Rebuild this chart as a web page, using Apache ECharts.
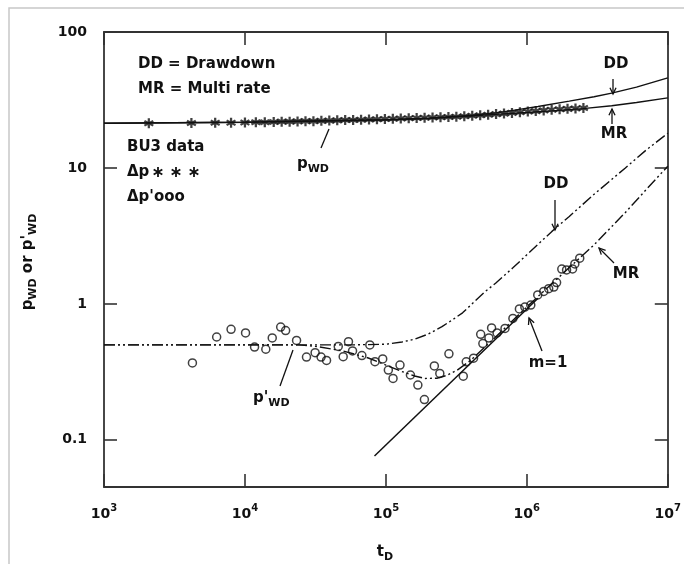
<!DOCTYPE html>
<html>
<head>
<meta charset="utf-8">
<script src="https://cdn.jsdelivr.net/npm/echarts/dist/echarts.min.js"></script>
<style>
  html, body { margin: 0; padding: 0; background: #fff; }
  #chart { width: 684px; height: 564px; }
</style>
</head>
<body>
<div id="chart"></div>
<script>
// BU3 build-up test: dimensionless pressure p_WD and derivative p'_WD vs t_D

// Δp data points (asterisks)
const starTimes = [2080, 4170, 6150, 7970, 10000, 11950, 13830, 16000, 18220, 20750,
  23620, 26890, 30610, 34850, 39680, 45170, 51430, 58560, 66670, 75910,
  86430, 98400, 112000, 127500, 145200, 165300, 188200, 214300, 244000, 277800,
  316200, 360000, 409900, 466700, 531400, 605000, 688700, 784300, 892900, 1016000,
  1157000, 1317000, 1500000, 1708000, 1944000, 2214000, 2520000];
const starPressure = [21.3, 21.4, 21.5, 21.5, 21.6, 21.7, 21.7, 21.8, 21.9, 21.9,
  22.0, 22.1, 22.1, 22.2, 22.3, 22.4, 22.5, 22.5, 22.6, 22.7,
  22.8, 22.9, 23.0, 23.1, 23.2, 23.3, 23.4, 23.5, 23.6, 23.7,
  23.8, 24.0, 24.2, 24.4, 24.6, 24.9, 25.1, 25.4, 25.7, 26.0,
  26.2, 26.5, 26.8, 27.0, 27.2, 27.4, 27.6];

// Δp' data points (open circles)
const circleTimes = [4240, 6300, 7970, 10100, 11700, 14060, 15620, 17930, 19440, 23240,
  27330, 31470, 34680, 37930, 45920, 49780, 54270, 57990, 67540, 76910,
  83670, 94950, 104100, 112400, 125900, 149300, 168600, 187600, 220700, 241300,
  280000, 354000, 371600, 418700, 470500, 487500, 538300, 562300, 614800, 700000,
  796500, 885500, 968000, 1067000, 1195000, 1318000, 1429000, 1554000, 1626000, 1770000,
  1914000, 2110000, 2190000, 2373000];
const circleDeriv = [0.368, 0.571, 0.650, 0.612, 0.481, 0.464, 0.562, 0.675, 0.637, 0.539,
  0.406, 0.438, 0.406, 0.384, 0.487, 0.409, 0.527, 0.451, 0.417, 0.499,
  0.376, 0.394, 0.326, 0.283, 0.355, 0.300, 0.253, 0.198, 0.350, 0.308,
  0.429, 0.294, 0.375, 0.399, 0.597, 0.511, 0.562, 0.666, 0.612, 0.660,
  0.782, 0.919, 0.947, 0.980, 1.165, 1.236, 1.294, 1.330, 1.435, 1.803,
  1.778, 1.808, 1.968, 2.168];

// Model p_WD: drawdown (DD) and multi rate (MR)
const ddPwdTimes = [1000, 10000, 100000, 200000, 400000, 600000, 800000, 1200000, 2000000, 3000000, 4000000, 6000000, 10000000];
const ddPwd = [21.3, 21.7, 22.6, 23.2, 24.3, 25.4, 26.5, 28.3, 31.0, 33.4, 35.5, 39.3, 46.0];
const mrPwdTimes = [1000, 10000, 100000, 200000, 400000, 600000, 1000000, 1500000, 2500000, 4000000, 6000000, 10000000];
const mrPwd = [21.3, 21.7, 22.6, 23.2, 24.1, 24.8, 25.6, 26.3, 27.3, 28.7, 30.3, 32.8];

// Model p'_WD: drawdown (DD) and multi rate (MR)
const ddDerivTimes = [1000, 30000, 60000, 100000, 130000, 160000, 200000, 250000, 300000, 350000,
  400000, 500000, 600000, 800000, 1000000, 1500000, 2000000, 3000000, 5000000, 7000000, 10000000];
const ddDeriv = [0.5, 0.5, 0.5, 0.505, 0.525, 0.55, 0.6, 0.68, 0.77, 0.86,
  0.98, 1.22, 1.42, 1.85, 2.3, 3.4, 4.4, 6.4, 10.0, 13.5, 18.0];
const mrDerivTimes = [1000, 24000, 33000, 50000, 75000, 100000, 130000, 160000, 190000, 230000,
  270000, 320000, 400000, 600000, 1000000, 2000000, 3000000, 5000000, 7000000, 10000000];
const mrDeriv = [0.5, 0.5, 0.485, 0.45, 0.40, 0.355, 0.318, 0.295, 0.283, 0.284,
  0.298, 0.325, 0.385, 0.57, 0.95, 1.85, 2.72, 4.7, 6.9, 10.3];

// Unit-slope (m=1) straight line
const unitSlopeTimes = [83000, 1200000];
const unitSlopeValues = [0.076, 1.1];

// Axis ranges and labelled decades
const xRange = [1000, 10000000];
const yRange = [0.045, 100];
const yTickLabels = { '0.1': '0.1', '1': '1', '10': '10', '100': '100' };

const FONT = 'DejaVu Sans';
const INK = '#111';
const AXIS = '#333';
// six-armed asterisk: one vertical bar and two bars at ±30°
const STAR_PATH = 'M3.9 0L6.1 0L6.1 10L3.9 10Z M0.1 3.6L1.2 1.7L9.9 6.4L8.8 8.3Z M1.2 8.3L0.1 6.4L8.8 1.7L9.9 3.6Z';

const pairs = (xs, ys) => xs.map((x, i) => [x, ys[i]]);

function isDecade(v) {
  const e = Math.round(Math.log10(v));
  return Math.abs(v - Math.pow(10, e)) / v < 1e-6;
}

function textEl(text, x, y, align) {
  return {
    type: 'text', x: x, y: y, z: 100,
    style: {
      text: text, fill: INK, fontFamily: FONT, fontWeight: 'bold', fontSize: 15,
      align: align || 'left', verticalAlign: 'middle',
      textAlign: align || 'left', textVerticalAlign: 'middle'
    }
  };
}

const subRich = {
  s: { fontFamily: FONT, fontWeight: 'bold', fontSize: 11, lineHeight: 14, verticalAlign: 'bottom', fill: INK, color: INK }
};

function richEl(text, x, y, align, rotation) {
  const el = {
    type: 'text', x: x, y: y, z: 100,
    style: {
      text: text, fill: INK, fontFamily: FONT, fontWeight: 'bold', fontSize: 15, lineHeight: 22,
      align: align, verticalAlign: 'middle', textAlign: align, textVerticalAlign: 'middle',
      rich: subRich
    }
  };
  if (rotation) el.rotation = rotation;
  return el;
}

function segment(x1, y1, x2, y2, w) {
  return { type: 'line', z: 100, shape: { x1: x1, y1: y1, x2: x2, y2: y2 },
    style: { stroke: INK, lineWidth: w || 1.3 } };
}

function arrow(x1, y1, x2, y2) {
  const a = Math.atan2(y1 - y2, x1 - x2);
  const len = 7, spread = 0.45;
  const h1 = [x2 + len * Math.cos(a + spread), y2 + len * Math.sin(a + spread)];
  const h2 = [x2 + len * Math.cos(a - spread), y2 + len * Math.sin(a - spread)];
  return [
    segment(x1, y1, x2, y2),
    { type: 'polyline', z: 100, shape: { points: [h1, [x2, y2], h2] },
      style: { stroke: INK, lineWidth: 1.3, fill: null } }
  ];
}

// legend asterisk built from three strokes
function legendStar(cx, cy) {
  const r = 5, dx = r * Math.cos(Math.PI / 6), dy = r * Math.sin(Math.PI / 6);
  return [
    segment(cx, cy - r, cx, cy + r, 1.8),
    segment(cx - dx, cy - dy, cx + dx, cy + dy, 1.8),
    segment(cx - dx, cy + dy, cx + dx, cy - dy, 1.8)
  ];
}

const chart = echarts.init(document.getElementById('chart'), null, { renderer: 'canvas' });

const tickStyle = { inside: true, length: 13, lineStyle: { color: AXIS, width: 1.6 } };
const lineAxis = { lineStyle: { color: AXIS, width: 1.8 } };

const modelLine = (name, data, dashed) => ({
  name: name, type: 'line', data: data, showSymbol: false, smooth: false,
  silent: true, z: 2,
  lineStyle: { color: INK, width: 1.4, type: dashed ? [11, 3, 2, 3, 2, 3] : 'solid' }
});

const option = {
  backgroundColor: '#fff',
  animation: false,
  grid: { left: 104, top: 32, width: 568, height: 455, containLabel: false },
  xAxis: [
    {
      type: 'log', logBase: 10, min: xRange[0], max: xRange[1],
      axisLine: lineAxis, axisTick: tickStyle, splitLine: { show: false }, minorTick: { show: false },
      axisLabel: {
        margin: 16,
        formatter: v => isDecade(v) ? '{b|10}{s|' + Math.round(Math.log10(v)) + '}' : '',
        rich: {
          b: { fontFamily: FONT, fontWeight: 'bold', fontSize: 14, lineHeight: 22, color: INK },
          s: { fontFamily: FONT, fontWeight: 'bold', fontSize: 10, lineHeight: 12, verticalAlign: 'top', color: INK }
        }
      }
    },
    {
      type: 'log', logBase: 10, min: xRange[0], max: xRange[1], position: 'top',
      axisLine: lineAxis, axisTick: tickStyle, splitLine: { show: false },
      axisLabel: { show: false }
    }
  ],
  yAxis: [
    {
      type: 'log', logBase: 10, min: yRange[0], max: yRange[1],
      axisLine: lineAxis, axisTick: tickStyle, splitLine: { show: false }, minorTick: { show: false },
      axisLabel: {
        margin: 17, color: INK, fontFamily: FONT, fontWeight: 'bold', fontSize: 14,
        formatter: v => isDecade(v) ? (yTickLabels[String(Math.pow(10, Math.round(Math.log10(v))))] || '') : ''
      }
    },
    {
      type: 'log', logBase: 10, min: yRange[0], max: yRange[1], position: 'right',
      axisLine: lineAxis, axisTick: tickStyle, splitLine: { show: false },
      axisLabel: { show: false }
    }
  ],
  series: [
    modelLine('p_WD DD', pairs(ddPwdTimes, ddPwd), false),
    modelLine('p_WD MR', pairs(mrPwdTimes, mrPwd), false),
    modelLine("p'_WD DD", pairs(ddDerivTimes, ddDeriv), true),
    modelLine("p'_WD MR", pairs(mrDerivTimes, mrDeriv), true),
    {
      name: 'm=1', type: 'line', data: pairs(unitSlopeTimes, unitSlopeValues), showSymbol: false,
      silent: true, z: 2, lineStyle: { color: INK, width: 1.5 }
    },
    {
      name: 'Δp', type: 'scatter', data: pairs(starTimes, starPressure), silent: true, z: 3,
      symbol: 'path://' + STAR_PATH, symbolSize: [10, 10], itemStyle: { color: INK }
    },
    {
      name: "Δp'", type: 'scatter', data: pairs(circleTimes, circleDeriv), silent: true, z: 3,
      symbol: 'circle', symbolSize: 8,
      itemStyle: { color: 'rgba(255,255,255,0)', borderColor: INK, borderWidth: 1.5 }
    }
  ],
  graphic: {
    elements: [
      { type: 'polyline', z: 0, shape: { points: [[9, 564], [9, 8], [684, 8]] },
        style: { stroke: '#c8c8c8', lineWidth: 1.5, fill: null } },
      textEl('DD = Drawdown', 138, 64),
      textEl('MR = Multi rate', 138, 89),
      textEl('BU3 data', 127, 147),
      textEl('Δp', 127, 172),
      textEl("Δp'ooo", 127, 197),
      textEl('DD', 616, 64, 'center'),
      textEl('MR', 614, 134, 'center'),
      textEl('DD', 556, 184, 'center'),
      textEl('MR', 626, 274, 'center'),
      textEl('m=1', 548, 363, 'center'),
      richEl('p{s|WD}', 297, 164, 'left'),
      richEl("p'{s|WD}", 253, 398, 'left'),
      richEl("p{s|WD} or p'{s|WD}", 28, 262, 'center', Math.PI / 2),
      richEl('t{s|D}', 385, 552, 'center'),
      segment(321, 148, 329, 129),
      segment(280, 386, 293, 350)
    ].concat(
      legendStar(158, 172), legendStar(176, 172), legendStar(194, 172),
      arrow(613, 79, 613, 94),
      arrow(612, 124, 612, 109),
      arrow(555, 200, 555, 230),
      arrow(614, 263, 599, 248),
      arrow(542, 351, 529, 318)
    )
  }
};

chart.setOption(option);
</script>
</body>
</html>
